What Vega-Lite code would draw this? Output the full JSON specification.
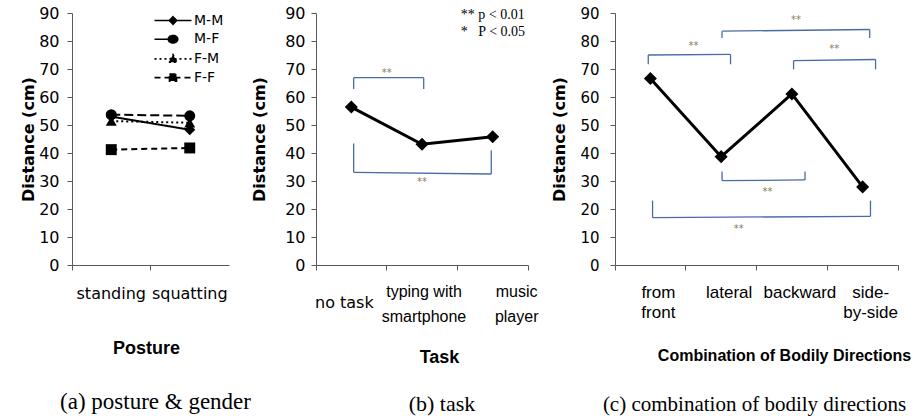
{
  "$schema": "https://vega.github.io/schema/vega-lite/v6.json",
  "background": "white",
  "padding": {"left": 20, "top": 5, "right": 5, "bottom": 3},
  "bounds": "flush",
  "spacing": 87,
  "config": {
    "view": {"stroke": null},
    "axis": {"grid": false, "domainColor": "#595959", "tickColor": "#595959", "labelColor": "#000000", "titleColor": "#000000", "tickSize": 5, "domainWidth": 1, "tickWidth": 1}
  },
  "datasets": {
    "posture": [
      {"posture": "standing", "pair": "M-M", "distance": 53.0},
      {"posture": "squatting", "pair": "M-M", "distance": 48.3},
      {"posture": "standing", "pair": "M-F", "distance": 53.7},
      {"posture": "squatting", "pair": "M-F", "distance": 53.3},
      {"posture": "standing", "pair": "F-M", "distance": 51.4},
      {"posture": "squatting", "pair": "F-M", "distance": 50.8},
      {"posture": "standing", "pair": "F-F", "distance": 41.2},
      {"posture": "squatting", "pair": "F-F", "distance": 41.8}
    ],
    "task": [
      {"task": "no task", "distance": 56.4},
      {"task": "typing with|smartphone", "distance": 43.1},
      {"task": "music|player", "distance": 45.8}
    ],
    "taskBrackets": [
      {"x1": 0.533, "y1": 62.9, "x2": 0.533, "y2": 66.9},
      {"x1": 0.533, "y1": 66.9, "x2": 1.524, "y2": 66.9},
      {"x1": 1.524, "y1": 66.9, "x2": 1.524, "y2": 62.9},
      {"x1": 0.533, "y1": 43.4, "x2": 0.533, "y2": 33.1},
      {"x1": 0.533, "y1": 33.1, "x2": 2.48, "y2": 32.5},
      {"x1": 2.48, "y1": 32.5, "x2": 2.48, "y2": 41.0}
    ],
    "taskStars": [
      {"x1": 1.0, "y1": 68.4, "label": "**"},
      {"x1": 1.5, "y1": 29.7, "label": "**"}
    ],
    "taskNotes": [
      {"x1": 2.05, "y1": 89.2, "label": "** p < 0.01"},
      {"x1": 2.05, "y1": 83.1, "label": "*\u00a0\u00a0\u00a0P < 0.05"}
    ],
    "direction": [
      {"direction": "from|front", "distance": 66.6},
      {"direction": "lateral", "distance": 38.7},
      {"direction": "backward", "distance": 61.1},
      {"direction": "side-|by-side", "distance": 27.9}
    ],
    "dirBrackets": [
      {"x1": 0.47, "y1": 71.7, "x2": 0.47, "y2": 75.0},
      {"x1": 0.47, "y1": 75.0, "x2": 1.633, "y2": 75.2},
      {"x1": 1.633, "y1": 75.2, "x2": 1.633, "y2": 71.7},
      {"x1": 1.513, "y1": 81.1, "x2": 1.513, "y2": 83.5},
      {"x1": 1.513, "y1": 83.5, "x2": 3.6, "y2": 84.1},
      {"x1": 3.6, "y1": 84.1, "x2": 3.6, "y2": 81.1},
      {"x1": 2.524, "y1": 69.9, "x2": 2.524, "y2": 73.0},
      {"x1": 2.524, "y1": 73.0, "x2": 3.683, "y2": 73.4},
      {"x1": 3.683, "y1": 73.4, "x2": 3.683, "y2": 69.9},
      {"x1": 1.513, "y1": 33.4, "x2": 1.513, "y2": 30.1},
      {"x1": 1.513, "y1": 30.1, "x2": 2.686, "y2": 30.4},
      {"x1": 2.686, "y1": 30.4, "x2": 2.686, "y2": 33.4},
      {"x1": 0.531, "y1": 23.0, "x2": 0.531, "y2": 16.9},
      {"x1": 0.531, "y1": 16.9, "x2": 3.611, "y2": 17.4},
      {"x1": 3.611, "y1": 17.4, "x2": 3.611, "y2": 23.0}
    ],
    "dirStars": [
      {"x1": 1.11, "y1": 78.2, "label": "**"},
      {"x1": 2.56, "y1": 87.6, "label": "**"},
      {"x1": 3.1, "y1": 77.2, "label": "**"},
      {"x1": 2.154, "y1": 26.0, "label": "**"},
      {"x1": 1.75, "y1": 12.7, "label": "**"}
    ]
  },
  "hconcat": [
    {
      "width": 157,
      "height": 252,
      "title": {"text": "(a) posture & gender", "orient": "bottom", "frame": "group", "anchor": "middle", "font": "Liberation Serif", "fontSize": 23, "fontWeight": "normal", "color": "black", "offset": 34, "dx": 5},
      "data": {"name": "posture"},
      "encoding": {
        "x": {"field": "posture", "type": "nominal", "sort": ["standing", "squatting"], "scale": {"type": "band", "paddingInner": 0, "paddingOuter": 0},
          "axis": {"title": "Posture", "titleFont": "Liberation Sans", "titleFontSize": 18, "titleFontWeight": "bold", "titlePadding": 38, "titleX": 74, "labelAngle": 0, "bandPosition": 0, "labelBaseline": "top", "labelPadding": 15, "labelFont": "DejaVu Sans", "labelFontSize": 16}},
        "y": {"field": "distance", "type": "quantitative", "scale": {"domain": [0, 90], "nice": false},
          "axis": {"title": "Distance (cm)", "values": [0, 10, 20, 30, 40, 50, 60, 70, 80, 90], "labelFlush": false, "labelFont": "DejaVu Sans", "labelFontSize": 16, "labelPadding": 8, "titleFont": "DejaVu Sans", "titleFontSize": 16, "titleFontWeight": "bold", "titlePadding": 2}}
      },
      "resolve": {"scale": {"shape": "independent", "strokeDash": "independent"}},
      "layer": [
        {
          "mark": {"type": "line", "color": "black", "strokeWidth": 2},
          "encoding": {
            "order": {"value": null},
            "strokeDash": {"field": "pair", "type": "nominal", "scale": {"domain": ["M-M", "M-F", "F-M", "F-F"], "range": [[1, 0], [9, 4], [2, 3], [6, 4]]}, "legend": null}
          }
        },
        {
          "mark": {"type": "point", "filled": true, "color": "black", "size": 120, "opacity": 1},
          "encoding": {
            "shape": {"field": "pair", "type": "nominal", "scale": {"domain": ["M-M", "M-F", "F-M", "F-F"], "range": ["diamond", "circle", "triangle-up", "square"]}, "legend": null}
          }
        },
        {
          "mark": {"type": "point", "filled": true, "color": "black", "stroke": "black", "strokeWidth": 1.6, "size": 100, "opacity": 0},
          "encoding": {
            "shape": {"field": "pair", "type": "nominal",
              "scale": {"domain": ["M-M", "M-F", "F-M", "F-F"], "range": [
                "M-3.7,0L3.7,0M0,-0.75L0.75,0L0,0.75L-0.75,0Z",
                "M-3.7,0L0,0M0.95,0A0.95,0.75 0 1,1 -0.95,0A0.95,0.75 0 1,1 0.95,0Z",
                "M-3.7,0L3.7,0M0,-0.85L0.85,0.65L-0.85,0.65Z",
                "M-3.7,0L3.7,0M-0.7,-0.7L0.7,-0.7L0.7,0.7L-0.7,0.7Z"]},
              "legend": {"title": null, "orient": "none", "legendX": 94, "legendY": 0.5, "padding": 0, "symbolSize": 100, "symbolOpacity": 1, "symbolStrokeWidth": 1.6, "labelOffset": 14, "rowPadding": 4.7, "labelFont": "DejaVu Sans", "labelFontSize": 14, "labelColor": "black"}},
            "strokeDash": {"field": "pair", "type": "nominal", "scale": {"domain": ["M-M", "M-F", "F-M", "F-F"], "range": [[1, 0], [1, 0], [2, 3], [6, 4]]},
              "legend": {"title": null, "orient": "none", "legendX": 94, "legendY": 0.5, "padding": 0, "symbolSize": 100, "symbolOpacity": 1, "symbolStrokeWidth": 1.6, "labelOffset": 14, "rowPadding": 4.7, "labelFont": "DejaVu Sans", "labelFontSize": 14, "labelColor": "black"}}
          }
        }
      ]
    },
    {
      "width": 212,
      "height": 252,
      "title": {"text": "(b) task", "orient": "bottom", "frame": "group", "anchor": "middle", "font": "Liberation Serif", "fontSize": 22, "fontWeight": "normal", "color": "black", "offset": 28, "dx": 20},
      "resolve": {"scale": {"x": "independent"}},
      "layer": [
        {
          "data": {"name": "task"},
          "encoding": {
            "x": {"field": "task", "type": "nominal", "sort": null, "scale": {"type": "band", "paddingInner": 0, "paddingOuter": 0},
              "axis": {"title": "Task", "titleFont": "Liberation Sans", "titleFontSize": 18, "titleFontWeight": "bold", "titlePadding": 24, "titleX": 123, "labelAngle": 0, "bandPosition": 0, "labelExpr": "split(datum.label, '|')", "labelBaseline": "middle", "labelLineHeight": 25,
                "labelPadding": {"condition": {"test": "datum.value === 'no task'", "value": 32}, "value": 21},
                "labelFont": {"condition": {"test": "datum.value === 'no task'", "value": "DejaVu Sans"}, "value": "Liberation Sans"},
                "labelFontSize": 16,
                "labelOffset": {"condition": [{"test": "datum.value === 'music|player'", "value": 24}, {"test": "datum.value === 'no task'", "value": -7}], "value": 2}}},
            "y": {"field": "distance", "type": "quantitative", "scale": {"domain": [0, 90], "nice": false},
              "axis": {"title": "Distance (cm)", "values": [0, 10, 20, 30, 40, 50, 60, 70, 80, 90], "labelFlush": false, "labelFont": "DejaVu Sans", "labelFontSize": 16, "labelPadding": 6, "titleFont": "DejaVu Sans", "titleFontSize": 16, "titleFontWeight": "bold", "titlePadding": 17.6}}
          },
          "layer": [
            {"mark": {"type": "line", "color": "black", "strokeWidth": 3}, "encoding": {"order": {"value": null}}},
            {"mark": {"type": "point", "shape": "diamond", "filled": true, "color": "black", "size": 170, "opacity": 1}}
          ]
        },
        {
          "encoding": {
            "x": {"field": "x1", "type": "quantitative", "scale": {"domain": [0, 3], "nice": false, "zero": false},
              "axis": {"orient": "bottom", "values": [3], "labels": false, "domain": false, "title": null, "tickSize": 5}},
            "y": {"field": "y1", "type": "quantitative",
              "axis": {"title": "Distance (cm)", "values": [0, 10, 20, 30, 40, 50, 60, 70, 80, 90], "labelFlush": false, "labelFont": "DejaVu Sans", "labelFontSize": 16, "labelPadding": 6, "titleFont": "DejaVu Sans", "titleFontSize": 16, "titleFontWeight": "bold", "titlePadding": 17.6}}
          },
          "layer": [
            {"data": {"name": "taskBrackets"}, "mark": {"type": "rule", "color": "#4a6aa8", "strokeWidth": 1.3}, "encoding": {"x2": {"field": "x2"}, "y2": {"field": "y2"}}},
            {"data": {"name": "taskStars"}, "mark": {"type": "text", "font": "DejaVu Sans", "fontSize": 10, "color": "#8c7b5e", "align": "center", "baseline": "middle"}, "encoding": {"text": {"field": "label"}}},
            {"data": {"name": "taskNotes"}, "mark": {"type": "text", "font": "Liberation Serif", "fontSize": 14, "color": "black", "align": "left", "baseline": "middle"}, "encoding": {"text": {"field": "label"}}}
          ]
        }
      ]
    },
    {
      "width": 283,
      "height": 252,
      "title": {"text": "(c) combination of bodily directions", "orient": "bottom", "frame": "group", "anchor": "middle", "font": "Liberation Serif", "fontSize": 21, "fontWeight": "normal", "color": "black", "offset": 31, "dx": -2},
      "resolve": {"scale": {"x": "independent"}},
      "layer": [
        {
          "data": {"name": "direction"},
          "encoding": {
            "x": {"field": "direction", "type": "nominal", "sort": null, "scale": {"type": "band", "paddingInner": 0, "paddingOuter": 0},
              "axis": {"title": "Combination of Bodily Directions", "titleFont": "Liberation Sans", "titleFontSize": 16, "titleFontWeight": "bold", "titlePadding": 27, "titleX": 169, "labelAngle": 0, "bandPosition": 0, "labelExpr": "split(datum.label, '|')", "labelBaseline": "top", "labelPadding": 14, "labelLineHeight": 20, "labelFont": "Liberation Sans", "labelFontSize": 17, "labelOffset": 8}},
            "y": {"field": "distance", "type": "quantitative", "scale": {"domain": [0, 90], "nice": false},
              "axis": {"title": "Distance (cm)", "values": [0, 10, 20, 30, 40, 50, 60, 70, 80, 90], "labelFlush": false, "labelFont": "DejaVu Sans", "labelFontSize": 15, "labelPadding": 11, "titleFont": "DejaVu Sans", "titleFontSize": 16, "titleFontWeight": "bold", "titlePadding": 12}}
          },
          "layer": [
            {"mark": {"type": "line", "color": "black", "strokeWidth": 3}, "encoding": {"order": {"value": null}}},
            {"mark": {"type": "point", "shape": "diamond", "filled": true, "color": "black", "size": 170, "opacity": 1}}
          ]
        },
        {
          "encoding": {
            "x": {"field": "x1", "type": "quantitative", "scale": {"domain": [0, 4], "nice": false, "zero": false},
              "axis": {"orient": "bottom", "values": [4], "labels": false, "domain": false, "title": null, "tickSize": 5}},
            "y": {"field": "y1", "type": "quantitative",
              "axis": {"title": "Distance (cm)", "values": [0, 10, 20, 30, 40, 50, 60, 70, 80, 90], "labelFlush": false, "labelFont": "DejaVu Sans", "labelFontSize": 15, "labelPadding": 11, "titleFont": "DejaVu Sans", "titleFontSize": 16, "titleFontWeight": "bold", "titlePadding": 12}}
          },
          "layer": [
            {"data": {"name": "dirBrackets"}, "mark": {"type": "rule", "color": "#4a6aa8", "strokeWidth": 1.3}, "encoding": {"x2": {"field": "x2"}, "y2": {"field": "y2"}}},
            {"data": {"name": "dirStars"}, "mark": {"type": "text", "font": "DejaVu Sans", "fontSize": 10, "color": "#8c7b5e", "align": "center", "baseline": "middle"}, "encoding": {"text": {"field": "label"}}}
          ]
        }
      ]
    }
  ]
}
